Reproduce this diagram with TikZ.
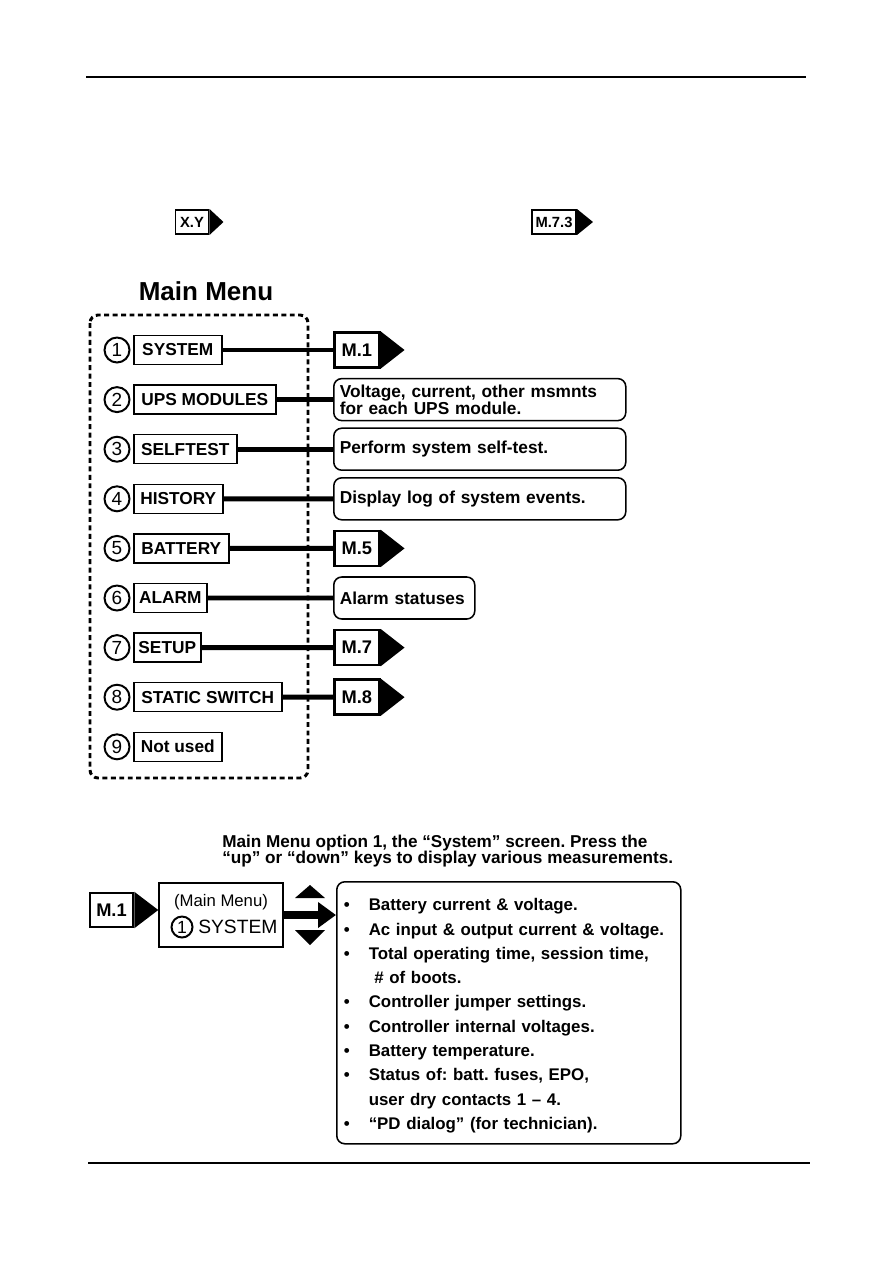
\documentclass[tikz,border=0pt]{standalone}
\usepackage{fontspec}
\setmainfont{Liberation Sans}
\usepackage{tikz}
\usetikzlibrary{arrows.meta,positioning,calc}
\frenchspacing
\newcommand{\listdot}{\makebox[6.25mm][l]{\textbullet}}
\tikzset{
  menubox/.style={draw,line width=1.1pt,minimum height=7.25mm,inner sep=0pt,font=\bfseries\fontsize{12.3}{14}\selectfont},
  numcircle/.style={circle,draw,line width=1.4pt,minimum size=6.25mm,inner sep=0pt,font=\fontsize{13.5}{14}\selectfont},
  gotag/.style={draw,line width=1.8pt,minimum width=11.25mm,minimum height=8.75mm,inner sep=0pt,font=\bfseries\fontsize{13}{14}\selectfont},
  smalltag/.style={draw,line width=1.4pt,minimum height=6mm,inner sep=0pt,font=\bfseries\fontsize{10.5}{11}\selectfont},
  infobox/.style={draw,line width=1.1pt,rounded corners=2mm,minimum height=10.5mm,inner xsep=1.5mm,inner ysep=0pt,align=left,font=\bfseries\fontsize{12.3}{12.1}\selectfont},
  link/.style={line width=3.5pt},
  menuframe/.style={line width=2.1pt,dash pattern=on 3.5pt off 2.5pt,rounded corners=2mm},
  pagerule/.style={line width=2pt}
}

\begin{document}
\begin{tikzpicture}[
  x=0.25mm,y=-0.25mm,
  bigarrow/.style={-{Triangle[length=4.5mm,width=6.2mm]},line width=5.6pt},
  keyhint/.style={fill=black},
  syslist/.style={draw,line width=1.1pt,rounded corners=2mm,minimum width=86mm,minimum height=65.5mm,text width=82.5mm,inner xsep=1.75mm,align=left,font=\bfseries\fontsize{12}{17.3}\selectfont}
]
  \useasboundingbox (0,0) rectangle (893,1263);

  \coordinate (topruleA) at (86,77);
  \coordinate (topruleB) at (806,77);
  \draw[pagerule] (topruleA) -- (topruleB);

  \node[smalltag,minimum width=8.25mm] (xytag) at (192,222) {X.Y};
  \node[smalltag,minimum width=11mm] (mtagsample) at (554,222) {M.7.3};

  \node[font=\bfseries\fontsize{18.5}{20}\selectfont] (maintitle) at (206,291) {Main Menu};

  \draw[menuframe] (90,315) rectangle (308,778);

  \foreach \i/\lbl/\w in {1/SYSTEM/88,2/UPS MODULES/142,3/SELFTEST/103,4/HISTORY/89,5/BATTERY/95,6/ALARM/73,7/SETUP/67,8/STATIC SWITCH/148,9/Not used/88}{
    \node[numcircle] (num\i) at (117,{350+49.6*(\i-1)}) {\i};
    \node[menubox,anchor=west,minimum width=\w*0.25mm] (item\i) at (133,{350+49.6*(\i-1)}) {\lbl};
  }

  \node[gotag,anchor=west] (m1) at (333,350) {M.1};
  \node[infobox,anchor=west,text width=70mm] (upsinfo) at (333,399.6) {Voltage, current, other msmnts\\for each UPS module.};
  \node[infobox,anchor=west,text width=70mm] (selftestinfo) at (333,449.2) {Perform system self-test.};
  \node[infobox,anchor=west,text width=70mm] (historyinfo) at (333,498.8) {Display log of system events.};
  \node[gotag,anchor=west] (m5) at (333,548.4) {M.5};
  \node[infobox,anchor=west,text width=32.25mm] (alarminfo) at (333,598) {Alarm statuses};
  \node[gotag,anchor=west] (m7) at (333,647.6) {M.7};
  \node[gotag,anchor=west] (m8) at (333,697.2) {M.8};

  \foreach \a/\b in {item1/m1,item2/upsinfo,item3/selftestinfo,item4/historyinfo,item5/m5,item6/alarminfo,item7/m7,item8/m8}{
    \draw[link] (\a.east) -- (\b.west);
  }

  \node[anchor=west,align=left,inner sep=0pt,font=\bfseries\fontsize{12.2}{12}\selectfont] (caption) at (222,851) {Main Menu option 1, the “System” screen. Press the\\“up” or “down” keys to display various measurements.};

  \node[gotag,minimum width=10.75mm,minimum height=8.5mm] (m1b) at (111.5,910) {M.1};

  \node[draw,line width=1.1pt,minimum width=31mm,minimum height=16mm] (sysmenu) at (221,915) {};
  \node[font=\fontsize{11.9}{13}\selectfont] (sysmenutitle) at (221,902) {(Main Menu)};
  \node[numcircle,minimum size=5.25mm,font=\fontsize{12.5}{13}\selectfont] (sysnum) at (182,927) {1};
  \node[anchor=west,inner sep=0pt,font=\fontsize{13.7}{14}\selectfont] (sysname) at (198,927) {SYSTEM};

  \node[syslist,anchor=north west] (sysinfo) at (336,881) {%
    \rule{0pt}{13pt}\listdot Battery current \& voltage.\\
    \listdot Ac input \& output current \& voltage.\\
    \listdot Total operating time, session time,\\
    \hspace*{6.25mm}\ \# of boots.\\
    \listdot Controller jumper settings.\\
    \listdot Controller internal voltages.\\
    \listdot Battery temperature.\\
    \listdot Status of: batt. fuses, EPO,\\
    \hspace*{6.25mm}user dry contacts 1 – 4.\\
    \listdot “PD dialog” (for technician).};

  \foreach \t/\d in {xytag/14,mtagsample/16,m1/24,m5/24,m7/24,m8/24,m1b/24}{
    \fill (\t.north east) -- ($(\t.east)+(\d,0)$) -- (\t.south east) -- cycle;
  }

  \draw[bigarrow] (sysmenu.east) -- (sysmenu.east -| sysinfo.west);
  \fill[keyhint] (295,898) -- (310,885) -- (325,898) -- cycle;
  \fill[keyhint] (295,930) -- (310,945) -- (325,930) -- cycle;

  \coordinate (botruleA) at (88,1163);
  \coordinate (botruleB) at (810,1163);
  \draw[line width=1pt] (botruleA) -- (botruleB);

\end{tikzpicture}
\end{document}
